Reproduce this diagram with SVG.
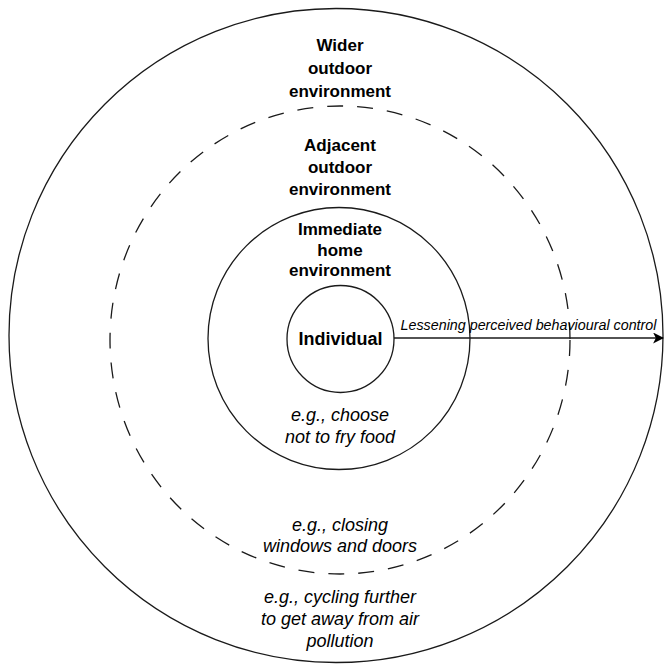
<svg xmlns="http://www.w3.org/2000/svg" width="665" height="667" viewBox="0 0 665 667">
<style>
.c{fill:none;stroke:#1a1a1a;stroke-width:1.3}
.d{stroke-dasharray:16 14}
.b{font-family:"Liberation Sans",Arial,sans-serif;font-weight:bold;font-size:17px;fill:#000;text-anchor:middle}
.i{font-family:"Liberation Sans",Arial,sans-serif;font-style:italic;font-size:18px;fill:#000;text-anchor:middle}
.s{font-family:"Liberation Sans",Arial,sans-serif;font-style:italic;font-size:14.3px;fill:#000;text-anchor:middle}
</style>
<defs>
<marker id="ah" viewBox="0 0 10 10" refX="9" refY="5" markerWidth="11" markerHeight="11" markerUnits="userSpaceOnUse" orient="auto">
<path d="M0,0 L10,5 L0,10 L2.5,5 Z" fill="#000"/>
</marker>
</defs>
<rect width="665" height="667" fill="#fff"/>
<g id="wider">
<circle class="c" cx="336" cy="335.5" r="327"/>
<text class="b" x="340" y="51">Wider</text>
<text class="b" x="340" y="74">outdoor</text>
<text class="b" x="340" y="97">environment</text>
<text class="i" x="340" y="603">e.g., cycling further</text>
<text class="i" x="340" y="625">to get away from air</text>
<text class="i" x="340" y="647">pollution</text>
</g>
<g id="adjacent">
<ellipse class="c d" cx="340" cy="340" rx="230" ry="234"/>
<text class="b" x="340" y="151">Adjacent</text>
<text class="b" x="340" y="173">outdoor</text>
<text class="b" x="340" y="195">environment</text>
<text class="i" x="340" y="531">e.g., closing</text>
<text class="i" x="340" y="552">windows and doors</text>
</g>
<g id="immediate">
<circle class="c" cx="339" cy="338.5" r="131"/>
<text class="b" x="340" y="235">Immediate</text>
<text class="b" x="340" y="256">home</text>
<text class="b" x="340" y="276">environment</text>
<text class="i" x="340" y="421">e.g., choose</text>
<text class="i" x="340" y="443">not to fry food</text>
</g>
<g id="individual">
<circle class="c" cx="340.5" cy="339" r="53.5"/>
<text class="b" x="340.5" y="345" style="font-size:18px">Individual</text>
</g>
<g id="connectors">
<line x1="394" y1="338" x2="663" y2="338" stroke="#1a1a1a" stroke-width="1.5" marker-end="url(#ah)"/>
<text class="s" x="528.5" y="330">Lessening perceived behavioural control</text>
</g>
</svg>
